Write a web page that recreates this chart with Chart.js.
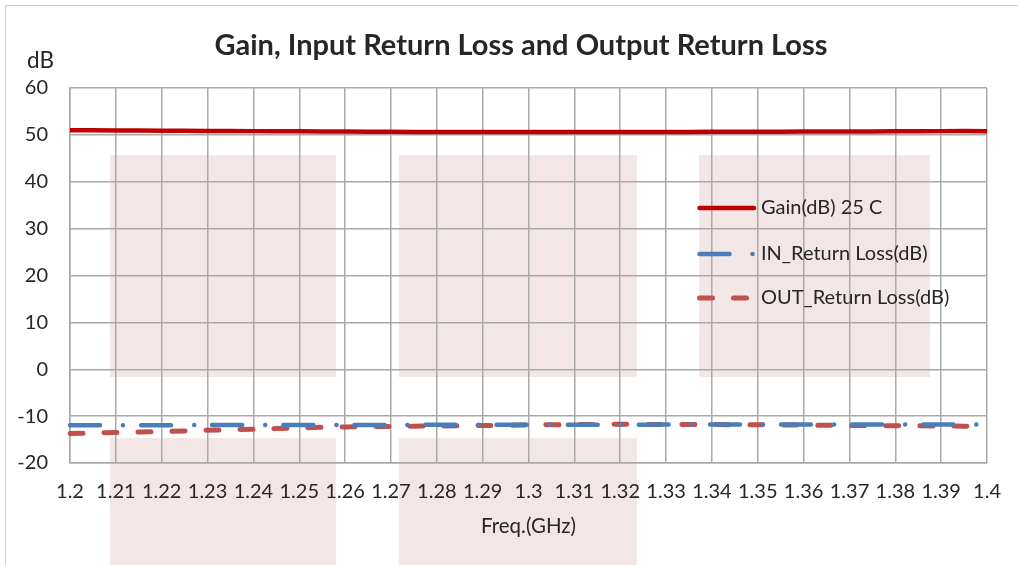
<!DOCTYPE html>
<html>
<head>
<meta charset="utf-8">
<script src="https://cdn.jsdelivr.net/npm/chart.js@4.4.1/dist/chart.umd.min.js"></script>
<style>
  html, body { margin: 0; padding: 0; background: #fff; }
  #wrap { width: 1018px; height: 565px; }
</style>
</head>
<body>
<div id="wrap"><canvas id="chart" width="1018" height="565"></canvas></div>
<script>
// frequency points (GHz), also used as the x tick labels
const freqLabels = ['1.2', '1.21', '1.22', '1.23', '1.24', '1.25', '1.26', '1.27', '1.28', '1.29', '1.3',
  '1.31', '1.32', '1.33', '1.34', '1.35', '1.36', '1.37', '1.38', '1.39', '1.4'];
const gainDb = [51.0, 50.95, 50.9, 50.85, 50.8, 50.75, 50.7, 50.65, 50.6, 50.6, 50.6,
  50.6, 50.6, 50.6, 50.65, 50.65, 50.7, 50.7, 50.75, 50.8, 50.8];
const inReturnLoss = [-11.95, -11.95, -11.95, -11.9, -11.9, -11.9, -11.9, -11.9, -11.85, -11.85, -11.85,
  -11.85, -11.85, -11.8, -11.8, -11.8, -11.8, -11.8, -11.8, -11.8, -11.8];
const outReturnLoss = [-13.7, -13.5, -13.3, -13.0, -12.8, -12.5, -12.3, -12.2, -12.1, -12.0, -11.9,
  -11.8, -11.75, -11.8, -11.8, -11.85, -11.9, -12.0, -12.05, -12.1, -12.2];
const seriesNames = ['Gain(dB) 25 C', 'IN_Return Loss(dB)', 'OUT_Return Loss(dB)'];

const FONT = 'Lato, "Open Sans", sans-serif';
const TEXT = '#262626';

// pale watermark blocks behind the plot, plus the outer frame
const backdrop = {
  id: 'backdrop',
  beforeDraw(chart) {
    const ctx = chart.ctx;
    ctx.save();
    ctx.fillStyle = '#f3e6e6';
    [[110, 155, 226, 222], [399, 155, 238, 222], [699, 155, 231, 222],
     [110, 438, 226, 130], [399, 438, 238, 130]].forEach(r => ctx.fillRect(r[0], r[1], r[2], r[3]));
    ctx.strokeStyle = '#cfcfcf';
    ctx.lineWidth = 1;
    ctx.strokeRect(5.5, 5.5, 1100, 700);
    ctx.restore();
  },
  afterDraw(chart) {
    const ctx = chart.ctx;
    ctx.save();
    ctx.fillStyle = TEXT;
    ctx.textBaseline = 'middle';
    ctx.textAlign = 'center';
    ctx.font = 'bold 29px ' + FONT;
    ctx.fillText('Gain, Input Return Loss and Output Return Loss', 521, 46);
    ctx.textAlign = 'left';
    ctx.font = '22.5px ' + FONT;
    ctx.fillText('dB', 27, 61);
    ctx.restore();
  }
};

// legend sitting inside the plot, drawn over the grid like the original
const innerLegend = {
  id: 'innerLegend',
  afterDraw(chart) {
    const ctx = chart.ctx;
    const rows = [208, 254, 298];
    ctx.save();
    chart.data.datasets.forEach((ds, i) => {
      const y = rows[i];
      ctx.beginPath();
      ctx.strokeStyle = ds.borderColor;
      ctx.lineWidth = ds.borderWidth;
      ctx.lineCap = 'round';
      ctx.setLineDash(ds.borderDash || []);
      ctx.moveTo(699.5, y);
      ctx.lineTo(754, y);
      ctx.stroke();
      ctx.setLineDash([]);
      ctx.fillStyle = TEXT;
      ctx.font = '20px ' + FONT;
      ctx.textBaseline = 'middle';
      ctx.textAlign = 'left';
      ctx.fillText(ds.label, 761, y);
    });
    ctx.restore();
  }
};

new Chart(document.getElementById('chart').getContext('2d'), {
  type: 'line',
  data: {
    labels: freqLabels,
    datasets: [
      {
        label: seriesNames[0],
        data: gainDb,
        borderColor: '#c00000',
        borderWidth: 4.5,
        pointRadius: 0,
        tension: 0.3
      },
      {
        label: seriesNames[1],
        data: inReturnLoss,
        borderColor: '#4a7ebb',
        borderWidth: 4.5,
        borderDash: [30, 23, 0.1, 18],
        borderCapStyle: 'round',
        pointRadius: 0,
        tension: 0.3
      },
      {
        label: seriesNames[2],
        data: outReturnLoss,
        borderColor: '#c0504d',
        borderWidth: 5,
        borderDash: [13, 21],
        borderCapStyle: 'round',
        pointRadius: 0,
        tension: 0.3
      }
    ]
  },
  options: {
    responsive: false,
    animation: false,
    layout: { padding: { left: 0, right: 27, top: 88, bottom: 0 } },
    plugins: {
      legend: { display: false },
      title: { display: false },
      tooltip: { enabled: false }
    },
    scales: {
      x: {
        type: 'category',
        offset: false,
        afterFit: s => { s.height = 102; },
        grid: { color: '#a9a9a9', lineWidth: 1.5, drawTicks: false },
        border: { color: '#a9a9a9', width: 1.5 },
        ticks: {
          autoSkip: false, maxRotation: 0, padding: 17,
          color: TEXT, font: { family: FONT, size: 20 }
        },
        title: {
          display: true, text: 'Freq.(GHz)', color: TEXT,
          font: { family: FONT, size: 20.5 }, padding: { top: 0, bottom: 26 }
        }
      },
      y: {
        min: -20,
        max: 60,
        afterFit: s => { s.width = 70; },
        grid: { color: '#a9a9a9', lineWidth: 1.5, drawTicks: false },
        border: { color: '#a9a9a9', width: 1.5 },
        ticks: {
          stepSize: 10, padding: 22,
          color: TEXT, font: { family: FONT, size: 20 }
        }
      }
    }
  },
  plugins: [backdrop, innerLegend]
});
</script>
</body>
</html>
